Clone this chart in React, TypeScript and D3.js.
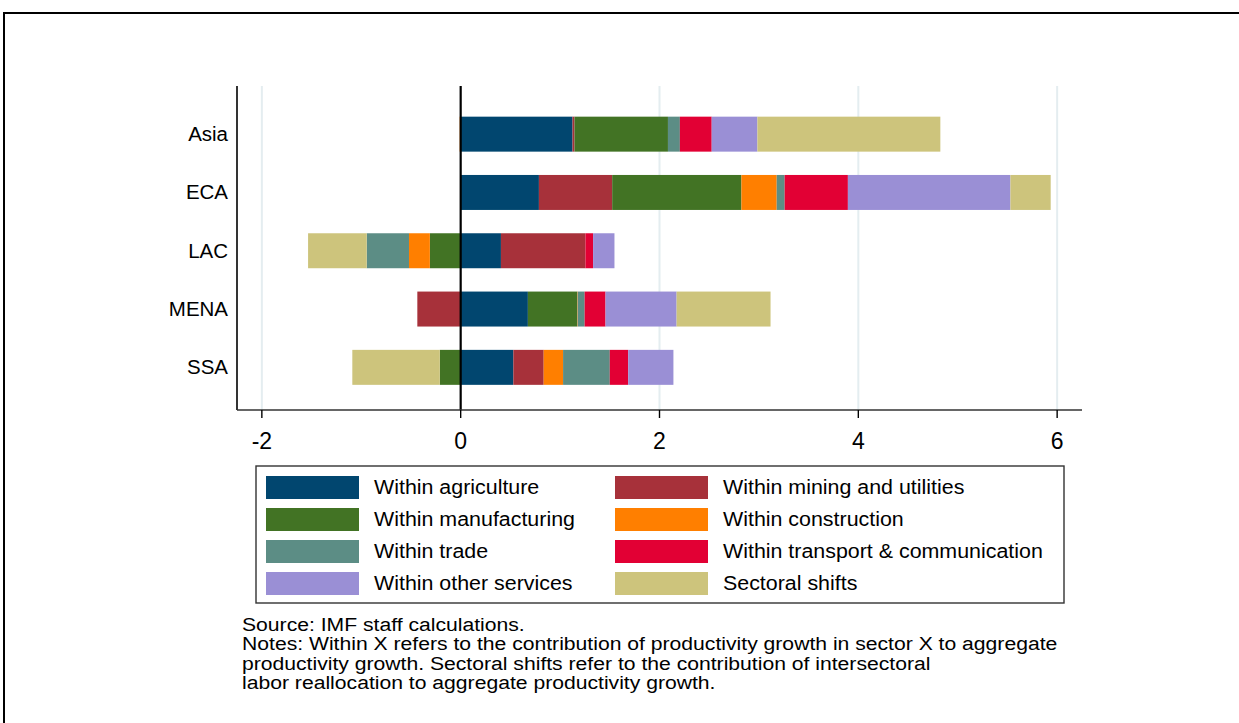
import React from "react";
import * as d3 from "d3";

const regions = ["Asia", "ECA", "LAC", "MENA", "SSA"];
const seriesNames = [
  "Within agriculture",
  "Within mining and utilities",
  "Within manufacturing",
  "Within construction",
  "Within trade",
  "Within transport & communication",
  "Within other services",
  "Sectoral shifts",
];
const agriculture = [1.125, 0.787, 0.405, 0.676, 0.53];
const mining = [0.02, 0.737, 0.85, -0.436, 0.305];
const manufacturing = [0.94, 1.3, -0.31, 0.496, -0.21];
const construction = [-0.01, 0.355, -0.21, 0.005, 0.195];
const trade = [0.12, 0.08, -0.425, 0.07, 0.47];
const transport = [0.32, 0.636, 0.077, 0.21, 0.185];
const otherServices = [0.46, 1.635, 0.215, 0.715, 0.455];
const sectoralShifts = [1.84, 0.405, -0.59, 0.945, -0.88];
const xTicks = [-2, 0, 2, 4, 6];
const colors = ["#01466f", "#a7313a", "#427324", "#ff7f00", "#5c8d85", "#e20034", "#9a8fd5", "#cdc47c"];
const noteLines = [
  "Source: IMF staff calculations.",
  "Notes: Within X refers to the contribution of productivity growth in sector X to aggregate",
  "productivity growth. Sectoral shifts refer to the contribution of intersectoral",
  "labor reallocation to aggregate productivity growth.",
];

const allSeries = [agriculture, mining, manufacturing, construction, trade, transport, otherServices, sectoralShifts];

function T(props: { x: number; y: number; sx?: number; size: number; anchor?: string; children: any }) {
  const { x, y, sx = 1, size, anchor = "start", children } = props;
  return (
    <text transform={`translate(${x},${y}) scale(${sx},1)`} fontSize={size} textAnchor={anchor} fill="#000">
      {children}
    </text>
  );
}

export default function App() {
  const W = 1239, H = 723;
  const left = 237, right = 1082, top = 86, bottom = 410;
  const x = d3.scaleLinear().domain([-2.25, 6.25]).range([left, right]);
  const y = d3.scaleBand<string>().domain(regions).range([105, 396.5]).paddingInner(0.4).paddingOuter(0.2);

  const table = regions.map((r, i) => {
    const o: any = { region: r };
    seriesNames.forEach((s, j) => (o[s] = allSeries[j][i]));
    return o;
  });
  const stacked = d3.stack<any>().keys(seriesNames).offset(d3.stackOffsetDiverging)(table);

  const font = "'Liberation Sans', Arial, Helvetica, sans-serif";

  return (
    <div style={{ position: "absolute", left: 0, top: 0 }}>
      <svg width={W} height={H} style={{ display: "block", background: "#fff" }} fontFamily={font}>
        <rect x={0} y={0} width={W} height={H} fill="#fff" />
        {/* frame */}
        <path d={`M4,${H + 5}V13H${W + 5}`} fill="none" stroke="#000" strokeWidth={2} />
        {/* grid */}
        {xTicks.filter((t) => t !== 0).map((t) => (
          <line key={t} x1={x(t)} x2={x(t)} y1={top} y2={bottom} stroke="#e4edf0" strokeWidth={2} />
        ))}
        {/* bars */}
        {stacked.map((s, j) => (
          <g key={s.key} fill={colors[j]}>
            {s.map((d, i) => {
              const x0 = Math.min(x(d[0]), x(d[1]));
              const w = Math.abs(x(d[1]) - x(d[0]));
              return w > 0 ? (
                <rect key={i} x={x0} y={y(regions[i])} width={w} height={y.bandwidth()} />
              ) : null;
            })}
          </g>
        ))}
        {/* zero line */}
        <line x1={x(0)} x2={x(0)} y1={top} y2={bottom} stroke="#000" strokeWidth={2.2} />
        {/* axes */}
        <line x1={left} x2={left} y1={top} y2={bottom} stroke="#000" strokeWidth={1.6} />
        <line x1={left} x2={right} y1={bottom} y2={bottom} stroke="#333" strokeWidth={1.6} />
        {xTicks.map((t) => (
          <g key={t}>
            <line x1={x(t)} x2={x(t)} y1={bottom} y2={bottom + 8} stroke="#000" strokeWidth={1.4} />
            <T x={x(t)} y={449} size={23} anchor="middle">
              {t < 0 ? "-" + Math.abs(t) : String(t)}
            </T>
          </g>
        ))}
        {regions.map((r) => (
          <T key={r} x={228} y={(y(r) as number) + y.bandwidth() / 2 + 7} size={19.5} sx={1.05} anchor="end">
            {r}
          </T>
        ))}
        {/* legend */}
        <rect x={256} y={466} width={808} height={137} fill="#fff" stroke="#333" strokeWidth={1.4} />
        {seriesNames.map((s, j) => {
          const col = j % 2;
          const row = Math.floor(j / 2);
          const sx = col === 0 ? 266 : 615;
          const sy = 476 + row * 32;
          return (
            <g key={s}>
              <rect x={sx} y={sy} width={93} height={23} fill={colors[j]} />
              <T x={sx + 108} y={sy + 18} size={20} sx={1.07}>
                {s}
              </T>
            </g>
          );
        })}
        {/* notes */}
        {noteLines.map((l, i) => (
          <T key={i} x={242} y={631 + i * 19.3} size={18} sx={1.175}>
            {l}
          </T>
        ))}
      </svg>
    </div>
  );
}
